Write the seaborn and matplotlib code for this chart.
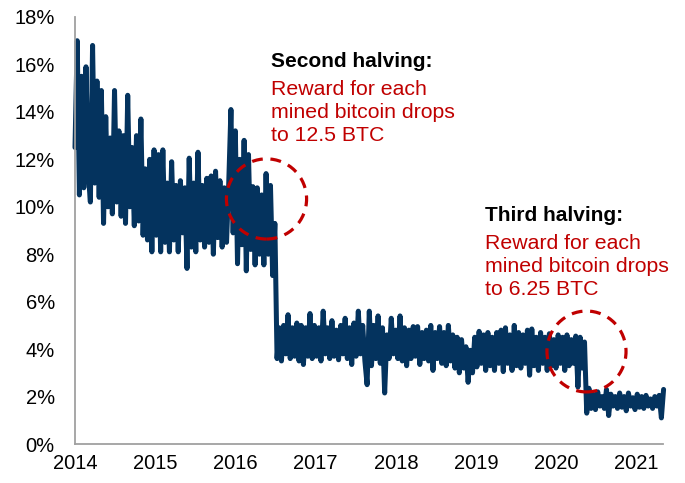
import seaborn as sns
import matplotlib.pyplot as plt
import matplotlib.dates as mdates
from matplotlib.patches import Ellipse
from matplotlib.ticker import PercentFormatter
import pandas as pd

# readings taken every 10 days from 1 Jan 2014 (share, in %)
values_2014 = [12.5, 17.0, 10.5, 15.5, 10.8, 15.9, 11.5, 10.2, 16.8, 11.0,
               15.3, 10.4, 14.9, 9.3, 13.8, 10.0, 12.9, 9.7, 14.9, 10.2,
               13.2, 9.6, 13.0, 9.3, 14.7, 10.0, 12.5, 9.2, 13.0, 9.4,
               13.7, 8.8, 11.6, 8.6, 12.0, 8.1, 12.4]
values_2015 = [8.8, 12.2, 8.1, 12.4, 8.5, 11.0, 8.1, 11.9, 8.6, 10.9,
               8.1, 11.1, 8.9, 10.8, 7.4, 12.05, 8.3, 11.0, 8.1, 12.3,
               8.6, 10.9, 8.3, 11.2, 8.5, 11.3, 8.0, 11.5, 8.7, 11.1,
               8.3, 10.8, 8.5, 11.0, 14.1, 8.9]
values_2016 = [13.2, 7.6, 12.0, 8.4, 12.8, 7.3, 12.2, 8.2, 10.85, 7.55,
               10.8, 8.0, 10.5, 7.55, 11.4, 8.0, 10.9, 7.1, 9.3,
               3.6, 4.9, 3.5, 5.0, 3.8, 5.45, 3.6, 4.9, 3.7, 5.1,
               3.5, 5.0, 3.35, 4.9, 3.7, 5.5, 3.6, 5.0]
values_2017 = [3.7, 4.9, 3.5, 5.6, 3.8, 4.9, 3.6, 5.2, 3.7, 4.8,
               3.55, 5.0, 3.8, 5.3, 3.6, 4.9, 3.35, 5.1, 3.7, 5.6,
               3.8, 5.0, 3.5, 2.5, 5.6, 3.3, 5.0, 3.6, 5.4, 3.4,
               4.9, 2.15, 4.6, 3.6, 5.3, 3.8]
values_2018 = [4.8, 3.6, 5.4, 3.5, 4.9, 3.3, 4.8, 3.6, 4.95, 3.7,
               4.95, 3.35, 4.7, 3.6, 4.8, 3.5, 5.0, 3.1, 4.7, 3.6,
               4.95, 3.4, 4.7, 3.3, 5.0, 3.5, 4.6, 3.2, 4.5, 3.0,
               4.4, 3.2, 4.1, 2.6, 3.95, 3.0, 4.5]
values_2019 = [3.25, 4.75, 3.4, 4.6, 3.1, 4.7, 3.3, 4.5, 3.1, 4.7,
               3.4, 4.8, 3.05, 4.9, 3.4, 4.6, 3.1, 5.0, 3.3, 4.7,
               3.2, 4.6, 3.4, 4.8, 2.9, 4.85, 3.3, 4.5, 3.1, 4.7,
               3.4, 4.5, 3.1, 4.65, 3.3, 4.4]
values_2020 = [3.2, 4.6, 3.4, 4.5, 3.1, 4.6, 3.3, 4.4, 3.4, 4.55,
               2.4, 4.5, 3.2, 4.3, 1.3, 2.35, 1.5, 2.1, 1.45, 2.2,
               1.6, 2.0, 1.5, 2.3, 1.2, 2.1, 1.6, 2.0, 1.5, 2.15,
               1.55, 2.0, 1.4, 2.15, 1.6, 1.95, 1.45]
values_2021 = [2.1, 1.55, 2.0, 1.5, 2.05, 1.6, 1.9, 1.5, 2.0, 1.6,
               2.05, 1.1, 2.3]

values = (values_2014 + values_2015 + values_2016 + values_2017
          + values_2018 + values_2019 + values_2020 + values_2021)
dates = pd.date_range("2014-01-01", periods=len(values), freq="10D")
df = pd.DataFrame({"date": dates, "share": [v / 100 for v in values]})

halvings = [("Second halving:", ["Reward for each", "mined bitcoin drops", "to 12.5 BTC"]),
            ("Third halving:", ["Reward for each", "mined bitcoin drops", "to 6.25 BTC"])]

navy = "#04335E"
red = "#C00000"
grey = "#A0A0A0"

sns.set_style("white")
plt.rcParams["font.family"] = ["Liberation Sans", "DejaVu Sans"]

fig = plt.figure(figsize=(6.85, 4.83), dpi=100)
ax = fig.add_axes([75 / 685, 1 - 444 / 483, (662.7 - 75) / 685, (444 - 17) / 483])

sns.lineplot(data=df, x="date", y="share", ax=ax, color=navy, linewidth=3.6,
             estimator=None, clip_on=False, solid_joinstyle="round",
             solid_capstyle="round")

ax.set_ylim(0, 0.18)
ax.set_yticks([i / 100 for i in range(0, 19, 2)])
ax.yaxis.set_major_formatter(PercentFormatter(1.0, decimals=0))
ax.set_xlim(pd.Timestamp("2014-01-01"), pd.Timestamp("2021-04-30"))
ax.xaxis.set_major_locator(mdates.YearLocator())
ax.xaxis.set_major_formatter(mdates.DateFormatter("%Y"))
ax.set_xlabel("")
ax.set_ylabel("")

for side in ["top", "right"]:
    ax.spines[side].set_visible(False)
for side in ["left", "bottom"]:
    ax.spines[side].set_color(grey)
    ax.spines[side].set_linewidth(1.3)
ax.tick_params(axis="both", direction="out", length=5, width=1.3, color=grey,
               labelsize=14.5, labelcolor="black")
ax.tick_params(axis="x", pad=2)
ax.tick_params(axis="y", pad=9.5)

# dashed rings round the two halvings
ax.add_patch(Ellipse((pd.Timestamp("2016-05-22"), 0.1033), width=365, height=0.0338,
                     fill=False, edgecolor=red, linewidth=2.3, linestyle=(0, (3.4, 2.4)),
                     zorder=5))
ax.add_patch(Ellipse((pd.Timestamp("2020-05-18"), 0.039), width=360, height=0.0341,
                     fill=False, edgecolor=red, linewidth=2.3, linestyle=(0, (3.4, 2.4)),
                     zorder=5))

# annotation text (pixel positions)
for (title, lines), (px, py) in zip(halvings, [(271, 52), (485, 206)]):
    fig.text(px / 685, 1 - py / 483, title, fontsize=15, fontweight="bold",
             color="black", va="top", ha="left")
    fig.text(px / 685, 1 - (py + 28) / 483, "\n".join(lines), fontsize=15.3,
             color=red, va="top", ha="left", linespacing=1.26)

plt.savefig("out.png", dpi=100)
